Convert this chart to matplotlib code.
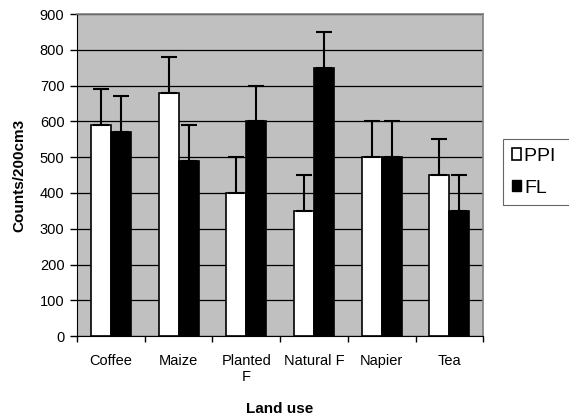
import numpy as np
import matplotlib
matplotlib.use('Agg')
import matplotlib.pyplot as plt
from matplotlib.patches import Patch

categories = ['Coffee', 'Maize', 'Planted\nF', 'Natural F', 'Napier', 'Tea']
ppi = [590, 680, 400, 350, 500, 450]
fl = [570, 490, 600, 750, 500, 350]
ppi_err = [100, 100, 100, 100, 100, 100]
fl_err = [100, 100, 100, 100, 100, 100]

plt.rcParams['font.family'] = ['Liberation Sans', 'DejaVu Sans']

fig = plt.figure(figsize=(5.69, 4.18), dpi=100)
ax = fig.add_axes([0.1353, 0.196, 0.714, 0.7705])

x = np.arange(len(categories))
w = 0.295
ax.set_facecolor('#c0c0c0')
ax.set_axisbelow(True)
ax.yaxis.grid(True, color='black', linewidth=0.9)

ax.bar(x - w/2, ppi, w, color='white', edgecolor='black', linewidth=1.2, zorder=2)
ax.bar(x + w/2, fl, w, color='black', edgecolor='black', linewidth=1.2, zorder=2)
ax.errorbar(x - w/2, ppi, yerr=[np.zeros(len(ppi)), ppi_err], fmt='none',
            ecolor='black', elinewidth=1.5, capsize=5.5, capthick=1.5, zorder=3)
ax.errorbar(x + w/2, fl, yerr=[np.zeros(len(fl)), fl_err], fmt='none',
            ecolor='black', elinewidth=1.5, capsize=5.5, capthick=1.5, zorder=3)

ax.set_xlim(-0.5, len(categories) - 0.5)
ax.set_ylim(0, 900)
ax.set_yticks(np.arange(0, 901, 100))
ax.set_xticks(x)
ax.set_xticklabels(categories, fontsize=10.5)
ax.tick_params(axis='x', length=0, pad=13)
ax.set_xticks(np.arange(-0.5, len(categories), 1), minor=True)
ax.tick_params(axis='x', which='minor', length=4, width=1, color='black')
ax.tick_params(axis='y', labelsize=10.5, length=5, width=1, pad=4)

for s in ['top', 'right']:
    ax.spines[s].set_color('#808080')
    ax.spines[s].set_linewidth(1.2)
ax.spines['left'].set_color('black')
ax.spines['bottom'].set_color('black')

ax.set_ylabel('Counts/200cm3', fontsize=11, fontweight='bold', labelpad=10)
ax.set_xlabel('Land use', fontsize=11, fontweight='bold', labelpad=13)

handles = [Patch(facecolor='white', edgecolor='black', linewidth=1.2, label='PPI '),
           Patch(facecolor='black', edgecolor='black', label='FL')]
leg = fig.legend(handles=handles, loc='upper left', bbox_to_anchor=(0.884, 0.667),
                 fontsize=14, frameon=True, fancybox=False, edgecolor='#404040',
                 handlelength=0.5, handleheight=0.5, handletextpad=0.15,
                 borderpad=0.45, labelspacing=0.75, borderaxespad=0)
leg.get_frame().set_linewidth(0.8)

fig.savefig('out.png', dpi=100)
